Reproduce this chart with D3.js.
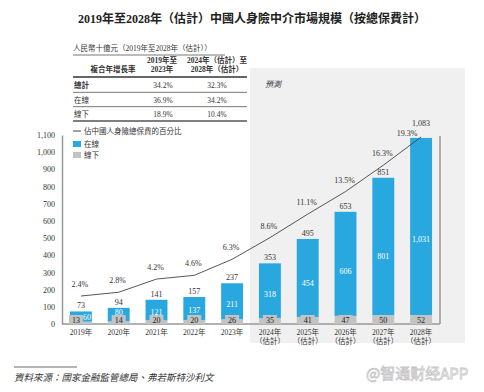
<!DOCTYPE html>
<html>
<head>
<meta charset="utf-8">
<script src="https://cdn.jsdelivr.net/npm/d3@7"></script>
<style>
  body { margin: 0; background: #fff; }
  svg text { font-family: "Liberation Serif", "Noto Sans CJK TC", serif; }
</style>
</head>
<body>
<svg class="chart" width="484" height="392"></svg>
<script>
// data
let years = ['2019年', '2020年', '2021年', '2022年', '2023年', '2024年', '2025年', '2026年', '2027年', '2028年'];
let forecast = [false, false, false, false, false, true, true, true, true, true];
let online = [60, 80, 121, 137, 211, 318, 454, 606, 801, 1031];
let offline = [13, 14, 20, 20, 26, 35, 41, 47, 50, 52];
let totals = [73, 94, 141, 157, 237, 353, 495, 653, 851, 1083];
let share = [2.4, 2.8, 4.2, 4.6, 6.3, 8.6, 11.1, 13.5, 16.3, 19.3];
let yTicks = [0, 100, 200, 300, 400, 500, 600, 700, 800, 900, 1000, 1100];
let cagrRows = ['總計', '在線', '線下'];
let cagrPast = ['34.2%', '36.9%', '18.9%'];
let cagrFuture = ['32.3%', '34.2%', '10.4%'];

let blue = '#29a8e0', grey = '#c3c3c3', ink = '#333';

let svg = d3.select('.chart');

// title
svg.append('text')
    .attr('x', 252).attr('y', 23)
    .attr('text-anchor', 'middle')
    .style('font-size', '12px').style('font-weight', 'bold')
    .style('fill', '#222')
    .text('2019年至2028年（估計）中國人身險中介市場規模（按總保費計）');

// forecast shading
svg.append('rect')
    .attr('x', 250).attr('y', 68).attr('width', 215).attr('height', 275)
    .style('fill', '#f0f0f0');
svg.append('text')
    .attr('x', 265).attr('y', 87)
    .style('font-size', '8px').style('font-style', 'italic').style('fill', ink)
    .text('預測');

// CAGR table
let tbl = svg.append('g').style('fill', ink);
tbl.append('text').attr('x', 73).attr('y', 51).style('font-size', '7.5px')
    .text('人民幣十億元（2019年至2028年（估計））');
tbl.append('line').attr('x1', 73).attr('x2', 225).attr('y1', 55).attr('y2', 55)
    .style('stroke', '#555').style('stroke-width', 0.8);
tbl.append('text').attr('x', 113).attr('y', 72).attr('text-anchor', 'middle')
    .style('font-size', '7.5px').style('font-weight', 'bold').text('複合年增長率');
tbl.append('text').attr('x', 162).attr('y', 63).attr('text-anchor', 'middle')
    .style('font-size', '7.5px').style('font-weight', 'bold').text('2019年至');
tbl.append('text').attr('x', 162).attr('y', 72).attr('text-anchor', 'middle')
    .style('font-size', '7.5px').style('font-weight', 'bold').text('2023年');
tbl.append('text').attr('x', 217).attr('y', 63).attr('text-anchor', 'middle')
    .style('font-size', '7.5px').style('font-weight', 'bold').text('2024年（估計）至');
tbl.append('text').attr('x', 217).attr('y', 72).attr('text-anchor', 'middle')
    .style('font-size', '7.5px').style('font-weight', 'bold').text('2028年（估計）');
tbl.append('line').attr('x1', 73).attr('x2', 247).attr('y1', 77).attr('y2', 77)
    .style('stroke', '#333').style('stroke-width', 1.6);

let rowY = d3.scaleBand().domain(cagrRows).range([78, 121]);
cagrRows.forEach((r, i) => {
    let cy = rowY(r) + rowY.bandwidth() / 2 + 3;
    tbl.append('text').attr('x', 74).attr('y', cy).style('font-size', '7.5px')
        .style('font-weight', i === 0 ? 'bold' : 'normal').text(r);
    tbl.append('text').attr('x', 163).attr('y', cy).attr('text-anchor', 'middle')
        .style('font-size', '7.5px').text(cagrPast[i]);
    tbl.append('text').attr('x', 217).attr('y', cy).attr('text-anchor', 'middle')
        .style('font-size', '7.5px').text(cagrFuture[i]);
    tbl.append('line').attr('x1', 73).attr('x2', 247)
        .attr('y1', rowY(r) + rowY.bandwidth()).attr('y2', rowY(r) + rowY.bandwidth())
        .style('stroke', '#555').style('stroke-width', i === 2 ? 1.4 : 0.8);
});

// scales
let x = d3.scaleBand().domain(years).range([62, 440])
    .paddingInner(0.42).paddingOuter(0.21);
let y = d3.scaleLinear().domain([0, 1100]).range([324, 135]);
let p = d3.scaleLinear().domain([0, 20]).range([318.6, 130.4]);

// axes
let yAxis = d3.axisLeft(y).tickValues(yTicks).tickSize(0).tickPadding(7)
    .tickFormat(d3.format(','));
let gy = svg.append('g').attr('transform', 'translate(62,0)').call(yAxis);
gy.select('.domain').style('stroke', '#999').style('stroke-width', 1.5);
gy.selectAll('text').style('font-size', '8px').style('fill', ink)
    .style('font-family', '"Liberation Serif", serif');

svg.append('line').attr('x1', 62).attr('x2', 440).attr('y1', y(0)).attr('y2', y(0))
    .style('stroke', '#999').style('stroke-width', 1.5);
svg.append('line').attr('x1', 440).attr('x2', 440).attr('y1', y(1100) + 1).attr('y2', y(0))
    .style('stroke', '#999').style('stroke-width', 1.5);

// x labels
let xl = svg.append('g');
years.forEach((yr, i) => {
    let cx = x(yr) + x.bandwidth() / 2;
    xl.append('text').attr('x', cx).attr('y', 335).attr('text-anchor', 'middle')
        .style('font-size', '7.5px').style('fill', ink).text(yr);
    if (forecast[i]) {
        xl.append('text').attr('x', cx).attr('y', 344).attr('text-anchor', 'middle')
            .style('font-size', '7.5px').style('fill', ink).text('（估計）');
    }
});

// bars
let bars = svg.append('g');
bars.selectAll('.on').data(years).enter().append('rect')
    .attr('x', d => x(d)).attr('width', x.bandwidth())
    .attr('y', (d, i) => y(totals[i]))
    .attr('height', (d, i) => y(offline[i]) - y(totals[i]))
    .style('fill', blue);
bars.selectAll('.off').data(years).enter().append('rect')
    .attr('x', d => x(d)).attr('width', x.bandwidth())
    .attr('y', (d, i) => y(offline[i]))
    .attr('height', (d, i) => y(0) - y(offline[i]))
    .style('fill', grey);

// when the online segment is too short, put the two labels side by side
let tight = (i) => (y(offline[i]) - y(totals[i])) < 12;
let cx = (d) => x(d) + x.bandwidth() / 2;

// offline labels with grey backing
bars.selectAll('.offbg').data(years).enter().append('rect')
    .attr('x', (d, i) => cx(d) - 7 - (tight(i) ? 5 : 0)).attr('width', 14)
    .attr('y', y(0) - 9).attr('height', 9)
    .style('fill', grey);
bars.selectAll('.offlbl').data(years).enter().append('text')
    .attr('x', (d, i) => cx(d) - (tight(i) ? 5 : 0)).attr('y', y(0) - 1.5)
    .attr('text-anchor', 'middle')
    .style('font-size', '8px').style('fill', '#222')
    .text((d, i) => offline[i]);

// online labels
bars.selectAll('.onlbl').data(years).enter().append('text')
    .attr('x', (d, i) => cx(d) + (tight(i) ? 6 : 0))
    .attr('y', (d, i) => {
        let top = y(totals[i]), bot = y(offline[i]);
        let v = top + (bot - top) * 0.57 + 3;
        return tight(i) ? v : Math.min(v, y(0) - 9.5);
    })
    .attr('text-anchor', 'middle')
    .style('font-size', '8px').style('fill', '#fff')
    .text((d, i) => d3.format(',')(online[i]));

// totals
bars.selectAll('.tot').data(years).enter().append('text')
    .attr('x', d => cx(d))
    .attr('y', (d, i) => y(totals[i]) - (i === years.length - 1 ? 12 : 3))
    .attr('text-anchor', 'middle')
    .style('font-size', '8px').style('fill', ink)
    .text((d, i) => d3.format(',')(totals[i]));

// share line
let line = d3.line()
    .x((d, i) => cx(years[i]))
    .y(d => p(d));
svg.append('path').datum(share).attr('d', line)
    .style('fill', 'none').style('stroke', '#444').style('stroke-width', 0.9);
svg.append('g').selectAll('text').data(share).enter().append('text')
    .attr('x', (d, i) => cx(years[i]) - (i === share.length - 1 ? 14 : 1))
    .attr('y', (d, i) => p(d) - (i === share.length - 1 ? 1 : 9))
    .attr('text-anchor', 'middle')
    .style('font-size', '8px').style('fill', ink)
    .text(d => d + '%');

// legend
let lg = svg.append('g');
lg.append('line').attr('x1', 73).attr('x2', 81).attr('y1', 131).attr('y2', 131)
    .style('stroke', '#444').style('stroke-width', 1);
lg.append('text').attr('x', 84).attr('y', 134).style('font-size', '7.5px').style('fill', ink)
    .text('佔中國人身險總保費的百分比');
lg.append('rect').attr('x', 73).attr('y', 141).attr('width', 8).attr('height', 6).style('fill', blue);
lg.append('text').attr('x', 84).attr('y', 147).style('font-size', '7.5px').style('fill', ink).text('在線');
lg.append('rect').attr('x', 73).attr('y', 152).attr('width', 8).attr('height', 6).style('fill', grey);
lg.append('text').attr('x', 84).attr('y', 158).style('font-size', '7.5px').style('fill', ink).text('線下');

// source
svg.append('line').attr('x1', 14).attr('x2', 77).attr('y1', 367).attr('y2', 367)
    .style('stroke', '#444').style('stroke-width', 0.8);
svg.append('text').attr('x', 14).attr('y', 381)
    .style('font-size', '9.5px').style('font-style', 'italic').style('fill', ink)
    .text('資料來源：國家金融監管總局、弗若斯特沙利文');

// watermark
svg.append('text').attr('x', 366).attr('y', 379)
    .style('font-size', '15px').style('fill', '#fff')
    .style('stroke', '#c8c8c8').style('stroke-width', 0.8)
    .style('font-family', '"Noto Sans CJK SC", sans-serif')
    .text('@智通财经APP');
</script>
</body>
</html>
